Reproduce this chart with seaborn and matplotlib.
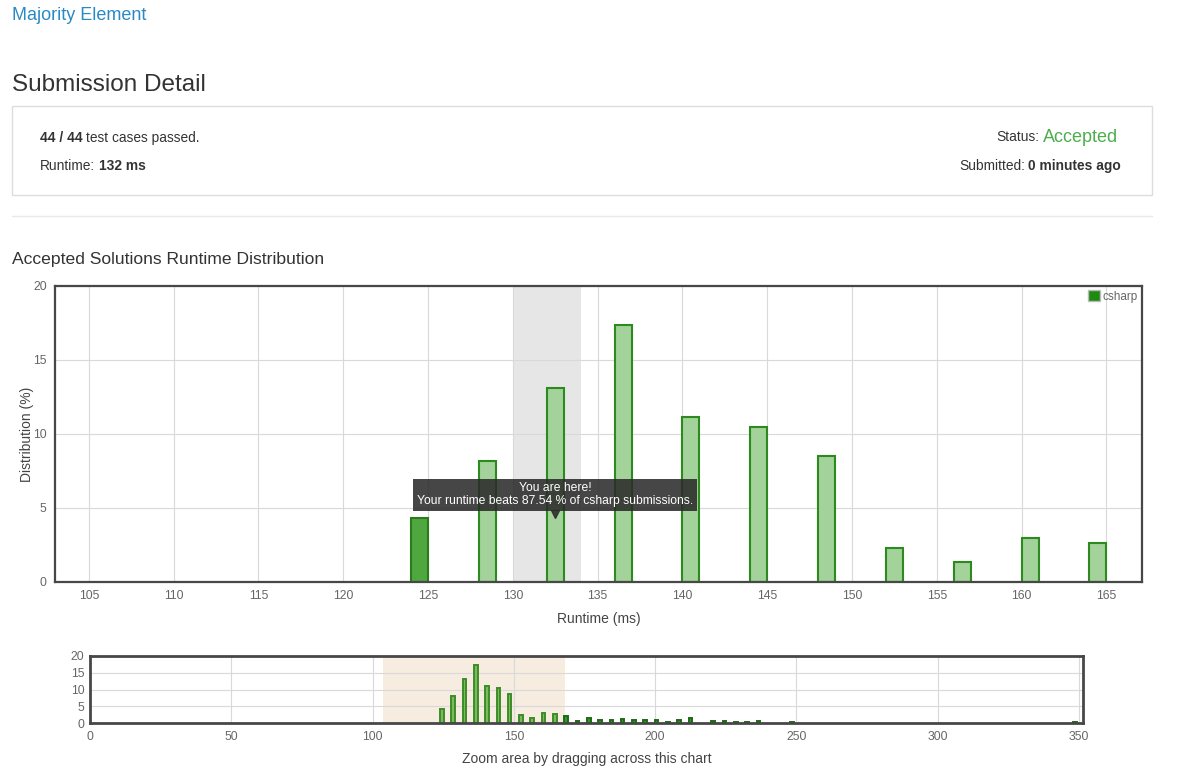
import matplotlib
matplotlib.use("Agg")
import matplotlib.pyplot as plt
import seaborn as sns
import pandas as pd
from matplotlib.patches import Rectangle, Patch
from matplotlib.lines import Line2D

# ---------------- data ----------------
runtime_ms = [124, 128, 132, 136, 140, 144, 148, 152, 156, 160, 164,
              168, 172, 176, 180, 184, 188, 192, 196, 200, 204, 208, 212,
              220, 224, 228, 232, 236, 248, 348]
distribution_pct = [4.32, 8.18, 13.1, 17.36, 11.15, 10.47, 8.51, 2.30, 1.35, 2.97, 2.64,
                    2.1, 0.6, 1.6, 1.0, 1.0, 1.3, 1.0, 1.0, 1.0, 0.4, 1.0, 1.4,
                    0.6, 0.6, 0.3, 0.3, 0.6, 0.3, 0.3]
bin_width_ms = 1
my_runtime = 132
beats_pct = 87.54
language = "csharp"
hover_runtime = 124

main_xticks = [105, 110, 115, 120, 125, 130, 135, 140, 145, 150, 155, 160, 165]
main_yticks = [0, 5, 10, 15, 20]
nav_xticks = [0, 50, 100, 150, 200, 250, 300, 350]
nav_yticks = [0, 5, 10, 15, 20]
main_xlim = (103, 167.1)
nav_xlim = (0, 351.4)
nav_selection = (103.7, 168.1)

df = pd.DataFrame({"runtime": runtime_ms, "pct": distribution_pct})
df["bin_mid"] = df["runtime"] + bin_width_ms / 2

# ---------------- style ----------------
sns.set_style("white")
plt.rcParams["font.family"] = ["Liberation Sans", "DejaVu Sans"]

W, H = 1192, 774
fig = plt.figure(figsize=(W / 100, H / 100), dpi=100)
renderer = fig.canvas.get_renderer()


def fx(x):
    return x / W


def fy(y):
    return 1 - y / H


def ftext(x, y, s, **kw):
    kw.setdefault("va", "center")
    return fig.text(fx(x), fy(y), s, **kw)


def chain(x, y, parts, gap=4, **kw):
    """Place text pieces one after another (left to right)."""
    for s, extra in parts:
        t = ftext(x, y, s, **{**kw, **extra})
        bb = t.get_window_extent(renderer=renderer)
        x += bb.width + gap


def chain_right(x_right, y, parts, gap=4, **kw):
    """Place text pieces so the last one ends at x_right."""
    widths = []
    for s, extra in parts:
        t = fig.text(0, 0, s, **{**kw, **extra})
        widths.append(t.get_window_extent(renderer=renderer).width)
        t.remove()
    total = sum(widths) + gap * (len(parts) - 1)
    chain(x_right - total, y, parts, gap=gap, **kw)


TXT = "#333333"
GRID = "#d9d9d9"
FRAME = "#474747"
TICK = "#666666"

# ---------------- page header ----------------
ftext(12, 16, "Majority Element", fontsize=13, color="#2a8ac4")
ftext(12, 85, "Submission Detail", fontsize=17.5, color=TXT)

fig.add_artist(Rectangle((fx(12), fy(195)), (1152 - 12) / W, (195 - 106) / H,
                         transform=fig.transFigure, fill=False,
                         edgecolor="#dddddd", linewidth=1))
fig.add_artist(Line2D([fx(12), fx(1152)], [fy(216), fy(216)],
                      transform=fig.transFigure, color="#e8e8e8", linewidth=1))

chain(40, 138, [("44 / 44", {"fontweight": "bold"}), ("test cases passed.", {})],
      gap=3.5, fontsize=9.9, color=TXT)
chain(40, 166, [("Runtime:", {}), (f"{my_runtime} ms", {"fontweight": "bold"})],
      gap=3.5, fontsize=9.9, color=TXT)
chain_right(1118, 137, [("Status:", {"fontsize": 9.9}), ("Accepted", {"fontsize": 13, "color": "#4cae4c"})],
            gap=4, color=TXT)
chain_right(1121, 166, [("Submitted:", {}), ("0 minutes ago", {"fontweight": "bold"})],
            gap=3.5, fontsize=9.9, color=TXT)

ftext(12, 259, "Accepted Solutions Runtime Distribution", fontsize=12.6, color=TXT)

# ---------------- main chart ----------------
ax = fig.add_axes([fx(55), fy(582), (1142 - 55) / W, (582 - 286) / H])
sns.barplot(data=df, x="bin_mid", y="pct", native_scale=True, width=0.25,
            saturation=1, color="#a3d39a", edgecolor="#2c8a1e", linewidth=1.5,
            errorbar=None, ax=ax, zorder=2)
bars = list(ax.patches)
for p, r in zip(bars, runtime_ms):
    if r == hover_runtime:
        p.set_facecolor("#4ea83f")
        p.set_edgecolor("#2b7b1d")

ax.axvspan(my_runtime - 2, my_runtime + 2, color="#e6e6e6", zorder=0.3, linewidth=0)
ax.set_xlim(*main_xlim)
ax.set_ylim(0, 20)
ax.set_xticks(main_xticks)
ax.set_yticks(main_yticks)
ax.set_axisbelow(True)
ax.grid(True, color=GRID, linewidth=0.8)
for s in ax.spines.values():
    s.set_color(FRAME)
    s.set_linewidth(1.6)
ax.tick_params(axis="both", length=0, labelsize=8.8, labelcolor=TICK)
ax.tick_params(axis="x", pad=6)
ax.tick_params(axis="y", pad=6)
ax.set_xlabel("Runtime (ms)", fontsize=10, color="#444444", labelpad=7)
ax.set_ylabel("Distribution (%)", fontsize=10, color="#444444", labelpad=-0.5)

ax.legend(handles=[Patch(facecolor="#1f8a10", edgecolor="#bbbbbb")], labels=[language],
          loc="upper right", frameon=False, fontsize=8.5, handlelength=1.05,
          handleheight=1.05, handletextpad=0.2, borderaxespad=0.25, borderpad=0.1,
          labelcolor="#666666")

# tooltip
tip_x = my_runtime + bin_width_ms / 2
ax.text(tip_x, 5.9, f"You are here!\nYour runtime beats {beats_pct:.2f} % of {language} submissions.",
        ha="center", va="center", fontsize=8.7, color="white", linespacing=1.05,
        zorder=5,
        bbox=dict(boxstyle="square,pad=0.32", facecolor="#2a2a2a", edgecolor="none", alpha=0.87))
ax.plot([tip_x], [4.62], marker="v", markersize=6, color="#2a2a2a", alpha=0.87,
        linestyle="none", zorder=5)

# ---------------- navigator chart ----------------
ax2 = fig.add_axes([fx(90), fy(723), (1083 - 90) / W, (723 - 656) / H])
sns.barplot(data=df, x="bin_mid", y="pct", native_scale=True, width=0.32,
            saturation=1, color="#7dba5f", edgecolor="#3c8c28", linewidth=1.4,
            errorbar=None, ax=ax2, zorder=2)
for p, r in zip(list(ax2.patches), runtime_ms):
    if not (nav_selection[0] <= r <= nav_selection[1] - 1):
        p.set_facecolor("#2f9a25")
        p.set_edgecolor("#1d6a14")
ax2.axvspan(*nav_selection, color="#f6ece0", zorder=0.3, linewidth=0)
ax2.set_xlim(*nav_xlim)
ax2.set_ylim(0, 20)
ax2.set_xticks(nav_xticks)
ax2.set_yticks(nav_yticks)
ax2.set_axisbelow(True)
ax2.grid(True, color=GRID, linewidth=0.8)
for s in ax2.spines.values():
    s.set_color(FRAME)
    s.set_linewidth(2.0)
ax2.tick_params(axis="both", length=0, labelsize=8.8, labelcolor=TICK)
ax2.tick_params(axis="x", pad=6)
ax2.tick_params(axis="y", pad=4)
ax2.set_xlabel("Zoom area by dragging across this chart", fontsize=10,
               color="#444444", labelpad=6)
ax2.set_ylabel("")

fig.savefig("out.png", dpi=100)
